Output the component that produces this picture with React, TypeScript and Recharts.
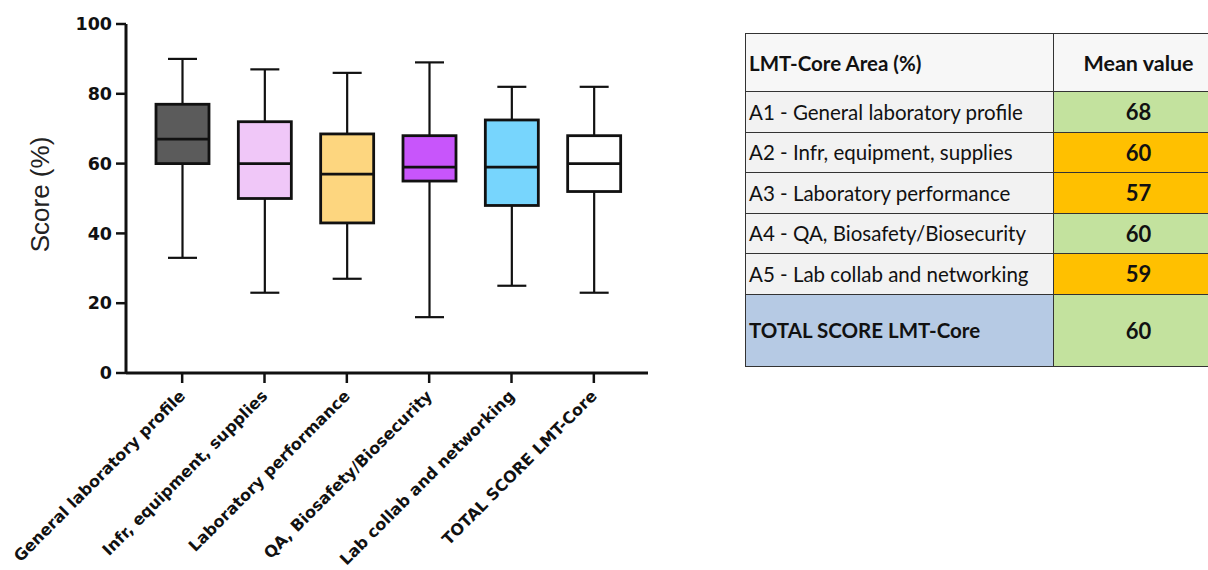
import { ComposedChart, Bar, XAxis, YAxis } from "recharts";

// LMT-Core area scores, five-number summary per area
const areas = [
  "General laboratory profile",
  "Infr, equipment, supplies",
  "Laboratory performance",
  "QA, Biosafety/Biosecurity",
  "Lab collab and networking",
  "TOTAL SCORE LMT-Core",
];
const whiskerLow = [33, 23, 27, 16, 25, 23];
const quartile1 = [60, 50, 43, 55, 48, 52];
const medians = [67, 60, 57, 59, 59, 60];
const quartile3 = [77, 72, 68.5, 68, 72.5, 68];
const whiskerHigh = [90, 87, 86, 89, 82, 82];
const yTicks = [0, 20, 40, 60, 80, 100];

// summary table
const tableAreas = [
  "A1 - General laboratory profile",
  "A2 - Infr, equipment, supplies",
  "A3 - Laboratory performance",
  "A4 - QA, Biosafety/Biosecurity",
  "A5 - Lab collab and networking",
];
const tableMeans = [68, 60, 57, 60, 59];
const totalLabel = "TOTAL SCORE LMT-Core";
const totalMean = 60;

const boxColors = ["#5b5b5b", "#f0c7f8", "#fdd67f", "#c855fb", "#77d5fd", "#ffffff"];
const meanColors = ["#c3e29e", "#ffc000", "#ffc000", "#c3e29e", "#ffc000"];

const data = areas.map((name, i) => ({
  name,
  low: whiskerLow[i],
  q1: quartile1[i],
  median: medians[i],
  q3: quartile3[i],
  high: whiskerHigh[i],
  base: quartile1[i],
  iqr: quartile3[i] - quartile1[i],
  color: boxColors[i],
}));

const axisFont = "'DejaVu Sans', Verdana, sans-serif";

const BoxShape = (props: any) => {
  const { x, y, width, height, payload } = props;
  const cx = x + width / 2;
  const ppu = height / (payload.q3 - payload.q1);
  const yOf = (v: number) => y + height - (v - payload.q1) * ppu;
  const cap = 14.5;
  return (
    <g stroke="#111" fill="none">
      <line x1={cx} x2={cx} y1={yOf(payload.high)} y2={y} strokeWidth={2.2} />
      <line x1={cx} x2={cx} y1={y + height} y2={yOf(payload.low)} strokeWidth={2.2} />
      <line x1={cx - cap} x2={cx + cap} y1={yOf(payload.high)} y2={yOf(payload.high)} strokeWidth={2.2} />
      <line x1={cx - cap} x2={cx + cap} y1={yOf(payload.low)} y2={yOf(payload.low)} strokeWidth={2.2} />
      <rect x={x} y={y} width={width} height={height} fill={payload.color} strokeWidth={2.8} />
      <line x1={x} x2={x + width} y1={yOf(payload.median)} y2={yOf(payload.median)} strokeWidth={2.8} />
    </g>
  );
};

const XTick = (props: any) => {
  const { x, y, payload } = props;
  const tx = x + 4;
  const ty = y + 12;
  return (
    <text
      x={tx}
      y={ty}
      transform={`rotate(-45 ${tx} ${ty})`}
      textAnchor="end"
      fontFamily={axisFont}
      fontWeight="bold"
      fontSize={16}
      fill="#111"
    >
      {payload.value}
    </text>
  );
};

const cellBorder = "1.6px solid #333";
const tableFont = "Lato, 'Open Sans', sans-serif";

export default function App() {
  return (
    <div style={{ position: "fixed", left: 0, top: 0, width: 1208, height: 570, overflow: "hidden", background: "#fff" }}>
      <ComposedChart
        width={662}
        height={570}
        data={data}
        margin={{ top: 24, right: 14, bottom: 0, left: 0 }}
        barSize={53}
      >
        <XAxis
          dataKey="name"
          height={197}
          padding={{ left: 15, right: 13 }}
          interval={0}
          axisLine={{ stroke: "#111", strokeWidth: 3 }}
          tickLine={{ stroke: "#111", strokeWidth: 2.5 }}
          tickSize={10}
          tick={<XTick />}
        />
        <YAxis
          width={126}
          domain={[0, 100]}
          ticks={yTicks}
          axisLine={{ stroke: "#111", strokeWidth: 3 }}
          tickLine={{ stroke: "#111", strokeWidth: 2.5 }}
          tickSize={10}
          tickMargin={4}
          tick={{ fill: "#111", fontSize: 17.5, fontWeight: "bold", fontFamily: axisFont }}
          label={{
            content: (p: any) => {
              const vb = p.viewBox;
              const lx = 49;
              const ly = vb.y + vb.height / 2 - 4;
              return (
                <text
                  x={lx}
                  y={ly}
                  transform={`rotate(-90 ${lx} ${ly})`}
                  textAnchor="middle"
                  fontFamily="'Liberation Sans', Arial, sans-serif"
                  fontSize={26}
                  fill="#222"
                >
                  Score (%)
                </text>
              );
            },
          }}
        />
        <Bar dataKey="base" stackId="box" fill="transparent" isAnimationActive={false} />
        <Bar dataKey="iqr" stackId="box" shape={<BoxShape />} isAnimationActive={false} />
      </ComposedChart>

      <table
        style={{
          position: "absolute",
          left: 745,
          top: 33,
          width: 478,
          tableLayout: "fixed",
          borderCollapse: "collapse",
          fontFamily: tableFont,
          fontSize: 20.5,
          color: "#111",
        }}
      >
        <colgroup>
          <col style={{ width: 308 }} />
          <col style={{ width: 170 }} />
        </colgroup>
        <tbody>
          <tr style={{ height: 58 }}>
            <td style={{ border: cellBorder, background: "#f7f7f7", fontWeight: "bold", paddingLeft: 3, whiteSpace: "nowrap" }}>
              LMT-Core Area (%)
            </td>
            <td style={{ border: cellBorder, background: "#f7f7f7", fontWeight: "bold", textAlign: "center", fontSize: 21.5 }}>
              Mean value
            </td>
          </tr>
          {tableAreas.map((a, i) => (
            <tr key={a} style={{ height: 40.5 }}>
              <td style={{ border: cellBorder, background: "#f2f2f2", paddingLeft: 3, whiteSpace: "nowrap" }}>{a}</td>
              <td
                style={{
                  border: cellBorder,
                  background: meanColors[i],
                  fontWeight: "bold",
                  fontSize: 22,
                  textAlign: "center",
                }}
              >
                {tableMeans[i]}
              </td>
            </tr>
          ))}
          <tr style={{ height: 72 }}>
            <td style={{ border: cellBorder, background: "#b6cae4", fontWeight: "bold", paddingLeft: 3, whiteSpace: "nowrap" }}>
              {totalLabel}
            </td>
            <td style={{ border: cellBorder, background: "#c3e29e", fontWeight: "bold", fontSize: 22, textAlign: "center" }}>
              {totalMean}
            </td>
          </tr>
        </tbody>
      </table>
    </div>
  );
}
